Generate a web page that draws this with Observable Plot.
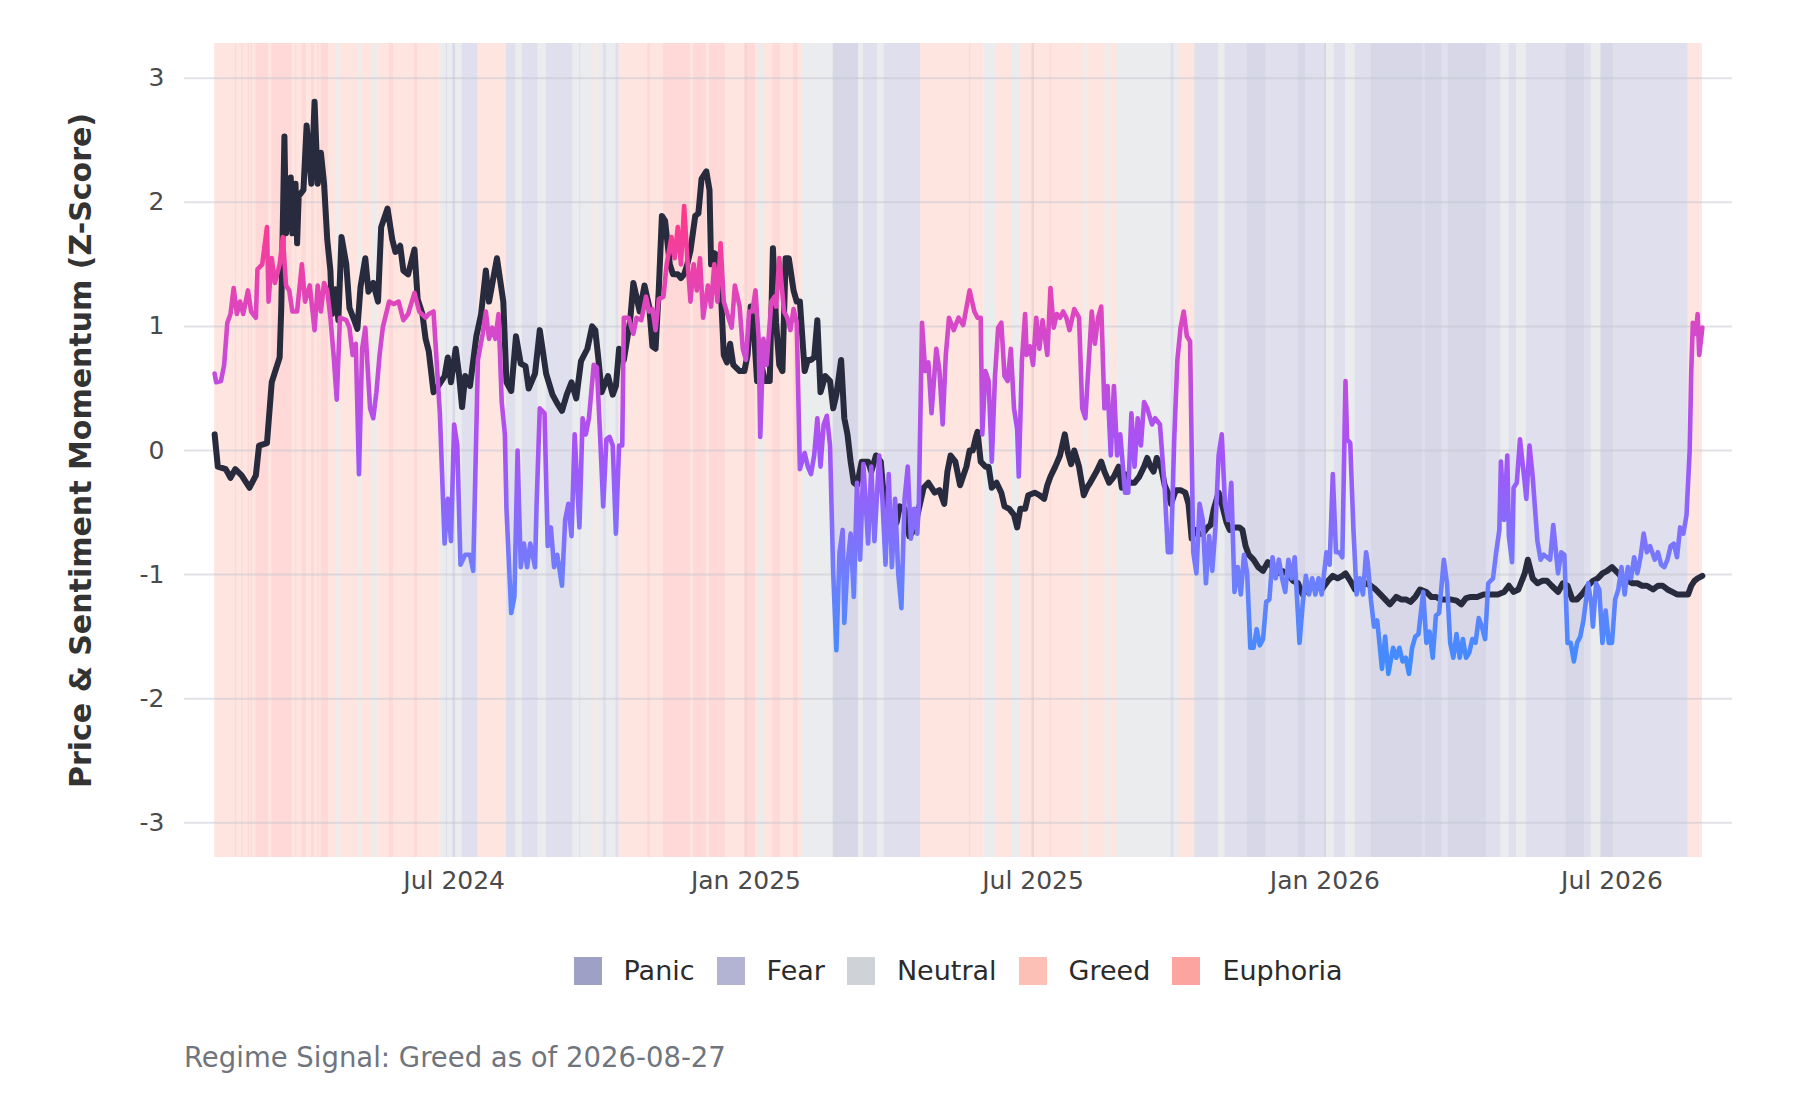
<!DOCTYPE html>
<html>
<head>
<meta charset="utf-8">
<script src="https://cdn.jsdelivr.net/npm/d3@7"></script>
<script src="https://cdn.jsdelivr.net/npm/@observablehq/plot@0.6"></script>
<style>
  body { margin: 0; background: #fff; font-family: "DejaVu Sans", sans-serif; }
  #chart { position: relative; width: 1800px; height: 1100px; }
  #legend { position: absolute; left: 184px; width: 1548px; top: 955px; display: flex; justify-content: center; align-items: center; column-gap: 22px; font-size: 27px; color: #2b2b2b; }
  #legend .item { display: flex; align-items: center; }
  #legend .swatch { width: 28px; height: 28px; margin-right: 22px; }
  #caption { position: absolute; left: 184px; top: 1042px; font-size: 27.5px; line-height: 30px; color: #70757d; }
</style>
</head>
<body>
<div id="chart">
  <div id="plot"></div>
  <div id="legend"></div>
  <div id="caption"></div>
</div>
<script>
// days counted from the first observation
const startDate = "2024-02-01";
const lastDay = 938;
const xDomain = ["2024-01-13", "2026-09-15"];
const xTicks = ["2024-07-01", "2025-01-01", "2025-07-01", "2026-01-01", "2026-07-01"];
const yTicks = [-3, -2, -1, 0, 1, 2, 3];
const yLabel = "Price & Sentiment Momentum (Z-Score)";
const caption = "Regime Signal: Greed as of 2026-08-27";

const regimes = ["Panic", "Fear", "Neutral", "Greed", "Euphoria"];
const regimeColors = ["#9fa0c6", "#b3b3d3", "#cfd2d6", "#fdc0b6", "#fca5a0"];

// [day, price z-score]
const priceSeries = [
  [0,0.13],[2,-0.13],[7,-0.15],[10,-0.22],[13,-0.15],[17,-0.2],[22,-0.3],[26,-0.2],[28,0.04],[33,0.06],
  [36,0.55],[41,0.75],[42,1.15],[44,2.53],[45,1.75],[48,2.2],[49,1.75],[51,2.15],[52,1.67],[53,2.05],
  [56,2.1],[58,2.62],[61,2.15],[63,2.81],[65,2.15],[67,2.4],[69,2.15],[71,1.7],[73,1.45],[74,1.1],
  [76,1.3],[78,1.05],[80,1.72],[83,1.5],[85,1.15],[88,1.05],[90,0.98],[92,1.32],[95,1.55],[97,1.28],
  [100,1.35],[103,1.2],[105,1.8],[109,1.95],[112,1.7],[114,1.6],[117,1.65],[119,1.45],[122,1.42],[126,1.62],
  [128,1.22],[131,1.1],[133,0.9],[135,0.8],[138,0.47],[141,0.52],[145,0.6],[147,0.75],[149,0.55],[152,0.82],
  [154,0.62],[156,0.35],[158,0.6],[161,0.52],[165,0.92],[168,1.1],[171,1.45],[173,1.2],[178,1.55],[182,1.2],
  [184,0.55],[187,0.48],[190,0.92],[193,0.7],[196,0.68],[198,0.5],[202,0.62],[205,0.97],[209,0.62],[213,0.45],
  [216,0.38],[219,0.32],[222,0.45],[225,0.55],[228,0.42],[231,0.72],[235,0.82],[238,1.0],
  [240,0.97],[242,0.73],[244,0.47],[248,0.6],[251,0.45],[253,0.52],[255,0.82],[258,0.73],[262,1.05],[264,1.35],
  [268,1.12],[271,1.33],[274,1.16],[276,0.84],[278,0.82],[280,1.29],[282,1.89],[284,1.85],[287,1.5],[289,1.42],
  [292,1.42],[294,1.39],[296,1.42],[298,1.5],[300,1.61],[303,1.89],[305,1.91],[307,2.19],[310,2.25],[312,2.1],
  [313,1.5],[315,1.59],[317,1.57],[319,1.33],[321,0.77],[323,0.71],[325,0.86],[327,0.69],[331,0.64],[334,0.64],
  [336,0.77],[338,1.16],[340,0.97],[342,0.56],[344,0.73],[347,0.56],[350,0.56],[352,1.63],[354,1.03],[356,0.69],
  [358,0.64],[360,1.55],[362,1.55],[365,1.29],[367,1.2],[369,1.2],[372,0.64],[374,0.73],[376,0.73],[378,0.75],
  [380,1.05],[382,0.47],[385,0.6],[388,0.56],[390,0.34],[392,0.45],[395,0.73],[397,0.26],[399,0.13],[401,-0.09],
  [403,-0.26],[405,-0.28],[408,-0.09],[412,-0.09],[414,-0.17],[417,-0.04],[420,-0.09],[422,-0.39],[425,-0.47],[427,-0.64],
  [430,-0.58],[432,-0.45],[435,-0.47],[438,-0.69],[441,-0.64],[444,-0.47],[447,-0.3],[450,-0.26],[454,-0.34],[457,-0.32],
  [460,-0.43],[462,-0.17],[464,-0.04],[467,-0.09],[470,-0.28],[474,-0.13],[476,0],
  [478,0],[480,0.11],[481,0.15],[483,-0.09],[486,-0.13],[488,-0.13],[490,-0.3],[493,-0.26],[496,-0.34],[498,-0.45],
  [501,-0.47],[504,-0.52],[506,-0.62],[508,-0.47],[511,-0.47],[513,-0.36],[517,-0.34],[520,-0.36],[523,-0.39],[525,-0.28],
  [527,-0.21],[530,-0.13],[533,-0.04],[536,0.13],[538,-0.02],[540,-0.11],[542,0],[545,-0.13],[548,-0.36],[550,-0.3],
  [552,-0.26],[556,-0.17],[559,-0.09],[561,-0.17],[564,-0.26],[567,-0.21],[570,-0.13],[572,-0.3],[574,-0.19],[577,-0.26],
  [580,-0.26],[583,-0.21],[586,-0.13],[588,-0.06],[590,-0.13],[592,-0.17],[594,-0.06],[597,-0.15],[599,-0.28],[601,-0.34],
  [603,-0.43],[606,-0.32],[609,-0.32],[612,-0.34],[614,-0.43],[616,-0.71],[618,-0.64],[620,-0.67],[623,-0.67],[626,-0.62],
  [628,-0.6],[630,-0.47],[633,-0.34],[635,-0.43],[638,-0.58],[640,-0.64],[643,-0.62],[646,-0.62],[648,-0.64],[650,-0.77],
  [652,-0.84],[655,-0.88],[658,-0.94],[661,-0.97],[664,-0.9],[667,-0.94],[670,-0.99],[673,-0.97],[676,-0.99],[680,-1.05],
  [683,-1.07],[686,-1.16],[689,-1.12],[692,-1.09],[695,-1.09],[698,-1.12],[702,-1.05],[705,-1.01],[708,-1.03],[711,-1.01],
  [713,-0.99],[716,-1.05],[719,-1.12],[723,-1.09],[726,-1.07],[729,-1.09],[732,-1.12],[735,-1.16],[738,-1.2],[741,-1.24],
  [745,-1.18],[748,-1.2],[751,-1.2],[754,-1.22],[757,-1.18],[760,-1.12],[764,-1.14],[767,-1.18],[770,-1.18],[773,-1.2],
  [776,-1.2],[779,-1.2],[783,-1.21],[786,-1.24],[789,-1.19],[792,-1.18],[796,-1.18],[800,-1.16],[805,-1.16],[809,-1.16],
  [813,-1.14],[816,-1.09],[819,-1.14],[822,-1.12],[826,-0.99],[828,-0.88],[831,-1.03],[834,-1.07],[837,-1.05],[840,-1.05],
  [843,-1.09],[847,-1.14],[850,-1.07],[853,-1.09],[856,-1.2],[859,-1.2],[862,-1.16],[866,-1.09],[869,-1.05],[872,-1.03],
  [875,-0.99],[878,-0.97],[881,-0.94],[885,-0.99],[888,-1.03],[891,-1.05],[894,-1.07],[897,-1.07],[900,-1.09],[903,-1.09],
  [907,-1.12],[910,-1.09],[913,-1.09],[916,-1.12],[919,-1.14],[922,-1.16],[925,-1.16],[929,-1.16],[931,-1.09],[933,-1.05],
  [935,-1.03],[938,-1.01]
];

// [day, sentiment z-score]
const sentimentSeries = [
  [0,0.62],[1,0.55],[4,0.56],[6,0.69],[8,1.03],[10,1.1],[12,1.31],[14,1.1],[16,1.2],[18,1.1],
  [21,1.29],[23,1.12],[26,1.07],[27,1.46],[30,1.5],[33,1.8],[34,1.2],[36,1.55],[38,1.35],[41,1.5],
  [43,1.72],[45,1.33],[47,1.29],[49,1.12],[52,1.12],[55,1.5],[57,1.2],[60,1.33],[63,0.97],[65,1.33],
  [67,1.12],[69,1.35],[71,1.29],[73,1.07],[75,0.77],[77,0.41],[79,1.07],[83,1.05],[85,0.99],[87,0.77],
  [89,0.86],[91,-0.19],[93,0.82],[95,0.99],[98,0.34],[100,0.26],[102,0.47],[104,0.77],[106,0.99],[110,1.2],
  [113,1.18],[116,1.2],[119,1.05],[122,1.1],[126,1.27],[129,1.12],[133,1.07],[135,1.1],[138,1.12],[140,0.71],
  [142,0.3],[145,-0.75],[147,-0.39],[149,-0.73],[151,0.21],[153,0.04],[155,-0.92],[158,-0.84],[161,-0.84],[163,-0.97],
  [166,0.73],[169,0.94],[171,1.12],[173,0.9],[175,0.99],[177,0.9],[179,1.1],[181,0.39],[183,0.13],[184,-0.47],
  [187,-1.31],[189,-1.18],[191,0],[193,-0.94],[195,-0.75],[197,-0.94],[199,-0.75],[202,-0.94],[203,-0.43],[205,0.34],
  [208,0.3],[210,-0.77],[212,-0.62],[214,-0.94],[216,-0.84],[219,-1.09],[221,-0.56],[223,-0.43],[225,-0.69],[227,0.13],
  [230,-0.62],[232,0.26],[234,0.13],[236,0.26],[239,0.69],
  [241,0.67],[243,0.13],[245,-0.45],[247,0.09],[249,0.11],[251,0.04],[253,-0.67],[255,0.04],[257,0.04],[258,1.07],
  [261,1.07],[264,0.94],[266,1.07],[269,1.05],[272,1.24],[274,1.12],[276,1.14],[278,0.97],[280,1.22],[283,1.24],
  [285,1.5],[288,1.72],[290,1.55],[292,1.8],[294,1.5],[296,1.97],[298,1.55],[300,1.2],[302,1.5],[304,1.29],
  [306,1.55],[308,1.07],[311,1.33],[313,1.16],[315,1.5],[317,1.2],[319,1.67],[321,1.2],[324,1.07],[326,0.99],
  [328,1.33],[331,1.16],[333,0.82],[335,0.73],[337,1.12],[339,1.12],[341,1.29],[343,0.9],[344,0.11],[346,0.9],
  [348,0.69],[351,1.2],[353,1.24],[354,1.16],[356,1.55],[359,1.12],[361,1.07],[363,0.97],[365,1.14],[367,1.03],
  [369,-0.15],[372,-0.02],[374,-0.13],[376,-0.19],[378,-0.04],[380,0.26],[382,-0.13],[384,0.21],[386,0.28],[388,0.04],
  [390,-0.99],[392,-1.61],[394,-0.82],[396,-0.64],[397,-1.39],[399,-0.92],[401,-0.67],[403,-1.18],[405,-0.26],[407,-0.88],
  [409,-0.11],[412,-0.75],[414,-0.13],[416,-0.73],[419,-0.04],[421,-0.39],[423,-0.92],[425,-0.19],[427,-0.94],[429,-0.39],
  [431,-0.99],[433,-1.27],[435,-0.39],[437,-0.13],[439,-0.71],[441,-0.47],[443,-0.67],[444,-0.43],[446,1.03],[448,0.64],
  [450,0.71],[452,0.3],[455,0.82],[457,0.64],[459,0.21],[461,0.77],[463,1.07],[466,0.97],[469,1.07],[472,1.01],
  [476,1.29],[479,1.12],[481,1.07],[483,1.07],[484,0.13],[486,0.64],[488,0.56],[490,-0.09],[492,0.6],[494,0.99],
  [496,1.03],[498,0.6],[500,0.56],[502,0.82],[504,0.34],[506,0.17],[507,-0.21],[509,0.73],[511,1.1],[512,0.77],
  [514,0.84],[516,0.69],[518,1.07],[520,0.82],[522,1.05],[525,0.77],[527,1.31],[529,0.99],[531,1.1],[533,1.07],
  [535,1.12],[537,1.07],[539,0.97],[542,1.14],[545,1.07],[547,0.34],[549,0.26],[551,0.69],[553,1.12],[555,0.86],
  [557,1.07],[559,1.16],[561,0.34],[563,0.52],[565,-0.04],[567,0.52],[569,-0.04],[571,0.13],[574,-0.34],[576,-0.34],
  [578,0.3],[580,-0.13],[582,0.26],[584,0.04],[586,0.39],[588,0.34],[591,0.21],[593,0.26],[596,0.21],[597,0.04],
  [599,-0.3],[601,-0.82],[603,-0.82],[605,0.09],[607,0.73],[609,0.99],[611,1.12],[613,0.92],[615,0.88],[617,-0.82],
  [619,-0.99],[621,-0.43],[623,-0.56],[625,-1.07],[627,-0.69],[629,-0.97],[631,-0.62],[633,-0.04],[635,0.13],[637,-0.43],
  [639,-0.56],[641,-0.26],[643,-1.14],[645,-0.94],[647,-1.16],[649,-0.84],[651,-0.99],[653,-1.59],[655,-1.59],[657,-1.44],
  [659,-1.57],[661,-1.52],[663,-1.22],[665,-1.2],[667,-0.86],[669,-1.03],[671,-0.88],[673,-1.03],[675,-1.14],[677,-0.88],
  [679,-1.03],[681,-0.86],[684,-1.55],[686,-1.24],[688,-1.01],[690,-1.16],[692,-1.03],[694,-1.16],[696,-1.03],[698,-1.16],
  [701,-0.82],[703,-0.92],[705,-0.19],[707,-0.82],[709,-0.82],[711,-0.86],[713,0.56],
  [714,0.09],[716,0.06],[718,-0.64],[720,-1.16],[722,-1.03],[724,-1.16],[726,-0.82],[727,-0.9],[729,-1.2],[731,-1.42],
  [733,-1.37],[735,-1.63],[736,-1.76],[738,-1.5],[740,-1.8],[743,-1.59],[745,-1.67],[747,-1.59],[749,-1.7],[751,-1.67],
  [753,-1.8],[755,-1.59],[757,-1.5],[759,-1.48],[762,-1.14],[764,-1.55],[766,-1.46],[768,-1.67],[770,-1.33],[772,-1.31],
  [775,-0.88],[777,-1.07],[779,-1.55],[781,-1.67],[783,-1.48],[785,-1.67],[787,-1.52],[789,-1.67],[791,-1.63],[793,-1.52],
  [795,-1.55],[797,-1.35],[799,-1.42],[801,-1.52],[803,-1.07],[806,-1.03],[808,-0.82],[810,-0.64],[811,-0.09],[813,-0.56],
  [815,-0.04],[816,-0.69],[818,-0.9],[819,-0.3],[821,-0.26],[823,0.09],[826,-0.26],[827,-0.39],[829,0.04],[831,-0.21],
  [834,-0.73],[836,-0.88],[838,-0.84],[840,-0.86],[842,-0.88],[844,-0.6],[847,-0.99],[849,-0.82],[851,-0.84],[853,-1.55],
  [855,-1.55],[857,-1.7],[859,-1.55],[861,-1.5],[863,-1.37],[866,-1.07],[868,-1.24],[869,-1.42],[871,-1.07],[873,-1.12],
  [875,-1.55],[877,-1.29],[879,-1.55],[881,-1.55],[883,-1.2],[885,-1.12],[887,-0.94],[889,-1.16],[891,-0.94],[893,-1.03],
  [895,-0.86],[897,-0.99],[899,-0.86],[901,-0.67],[903,-0.82],[905,-0.77],[908,-0.88],[910,-0.82],[912,-0.92],[914,-0.94],
  [916,-0.88],[918,-0.77],[920,-0.75],[922,-0.86],[924,-0.62],[926,-0.67],[928,-0.52],[930,0],[931,0.64],[932,1.03],
  [934,0.94],[935,1.1],[936,0.77],[938,0.99]
];

// [first day, regime initial]; each band runs to the next one's first day
const regimeBands = [
  [0,"G"],[13,"E"],[14,"G"],[17,"E"],[18,"G"],[21,"E"],[22,"G"],[23,"E"],[24,"G"],[26,"E"],
  [34,"G"],[36,"E"],[49,"G"],[51,"E"],[52,"G"],[55,"E"],[58,"G"],[61,"E"],[63,"G"],[65,"E"],
  [66,"G"],[67,"E"],[72,"G"],[77,"N"],[79,"G"],[91,"N"],[93,"G"],[99,"N"],[100,"G"],[101,"N"],
  [103,"G"],[110,"E"],[113,"G"],[126,"E"],[128,"G"],[142,"N"],[146,"F"],[147,"N"],[150,"F"],[152,"N"],
  [156,"F"],[166,"G"],[184,"F"],[190,"N"],[194,"F"],[204,"N"],[209,"F"],[226,"N"],[230,"F"],[231,"N"],
  [239,"G"],[241,"N"],[245,"F"],[247,"N"],[253,"F"],[255,"G"],[273,"E"],[275,"G"],[283,"E"],[300,"G"],
  [302,"E"],[310,"G"],[312,"E"],[322,"G"],[334,"E"],[341,"G"],[343,"N"],[346,"G"],[352,"E"],[357,"G"],
  [365,"E"],[368,"G"],[370,"N"],[390,"P"],[406,"N"],[409,"F"],[418,"N"],[422,"F"],[445,"G"],[476,"E"],
  [477,"G"],[485,"N"],[493,"G"],[503,"N"],[508,"G"],[515,"E"],[517,"G"],[527,"E"],[528,"G"],[548,"N"],
  [550,"G"],[562,"N"],[565,"G"],[569,"N"],[603,"F"],[605,"N"],[608,"G"],[618,"F"],[633,"N"],[637,"F"],
  [651,"P"],[663,"F"],[683,"P"],[688,"F"],[700,"P"],[701,"N"],[706,"F"],[713,"N"],[719,"F"],[729,"P"],
  [762,"F"],[763,"P"],[774,"F"],[778,"P"],[802,"F"],[811,"N"],[816,"F"],[821,"N"],[827,"F"],[852,"P"],
  [864,"F"],[868,"N"],[874,"P"],[881,"F"],[929,"G"]
];

// sentiment line colour runs with its value
const sentimentStops = [[1.9, "#ff3a8c"], [1.0, "#d748c8"], [0, "#a553f7"], [-1.0, "#6f7efd"], [-1.8, "#3c8dff"]];

const day0 = new Date(startDate);
const toDate = d => d3.utcDay.offset(day0, d);
const price = priceSeries.map(([d, z]) => ({date: toDate(d), z}));
const sentiment = sentimentSeries.map(([d, z]) => ({date: toDate(d), z}));
const byInitial = Object.fromEntries(regimes.map(r => [r[0], r]));
const bands = regimeBands.map(([d, code], i) => ({
  start: toDate(d),
  end: toDate(i + 1 < regimeBands.length ? regimeBands[i + 1][0] : lastDay),
  regime: byInitial[code]
}));
const tickDates = xTicks.map(d => new Date(d));

const plot = Plot.plot({
  width: 1800,
  height: 905,
  marginTop: 43,
  marginBottom: 48,
  marginLeft: 184,
  marginRight: 68,
  style: {fontFamily: "DejaVu Sans, sans-serif", fontSize: "25px", color: "#4a4a4a", background: "transparent", overflow: "visible"},
  x: {type: "utc", domain: xDomain.map(d => new Date(d)), ticks: tickDates, tickFormat: d3.utcFormat("%b %Y"), tickSize: 0, tickPadding: 14, label: null},
  y: {domain: [-3.28, 3.28], ticks: yTicks, tickFormat: d => String(d), tickSize: 0, tickPadding: 20, label: null},
  color: {domain: regimes, range: regimeColors},
  marks: [
    Plot.barX(bands, {x1: "start", x2: "end", fill: "regime", fillOpacity: 0.42}),
    Plot.ruleY(yTicks, {stroke: "#c4c6d0", strokeOpacity: 0.5, strokeWidth: 2}),
    Plot.ruleX(tickDates, {stroke: "#c4c6d0", strokeOpacity: 0.3, strokeWidth: 1.5}),
    Plot.line(price, {x: "date", y: "z", stroke: "#282a3e", strokeWidth: 6, strokeLinejoin: "round"}),
    Plot.line(sentiment, {x: "date", y: "z", stroke: "url(#sentGrad)", strokeWidth: 4.6, strokeLinejoin: "round"}),
    Plot.text([yLabel], {text: d => d, frameAnchor: "left", textAnchor: "middle", lineAnchor: "middle", dx: -103, rotate: -90, fontSize: 30, fontWeight: "bold", fill: "#333"})
  ]
});

// vertical gradient pinned to the y scale
const yScale = plot.scale("y");
const gradTop = sentimentStops[0][0];
const gradBottom = sentimentStops[sentimentStops.length - 1][0];
d3.select(plot).insert("defs", ":first-child")
  .append("linearGradient")
  .attr("id", "sentGrad")
  .attr("gradientUnits", "userSpaceOnUse")
  .attr("x1", 0).attr("x2", 0)
  .attr("y1", yScale.apply(gradTop)).attr("y2", yScale.apply(gradBottom))
  .selectAll("stop")
  .data(sentimentStops)
  .join("stop")
  .attr("offset", d => (gradTop - d[0]) / (gradTop - gradBottom))
  .attr("stop-color", d => d[1]);

document.getElementById("plot").appendChild(plot);

const legend = d3.select("#legend").selectAll("div").data(regimes).join("div").attr("class", "item");
legend.append("span").attr("class", "swatch").style("background", (d, i) => regimeColors[i]);
legend.append("span").text(d => d);

document.getElementById("caption").textContent = caption;
</script>
</body>
</html>
